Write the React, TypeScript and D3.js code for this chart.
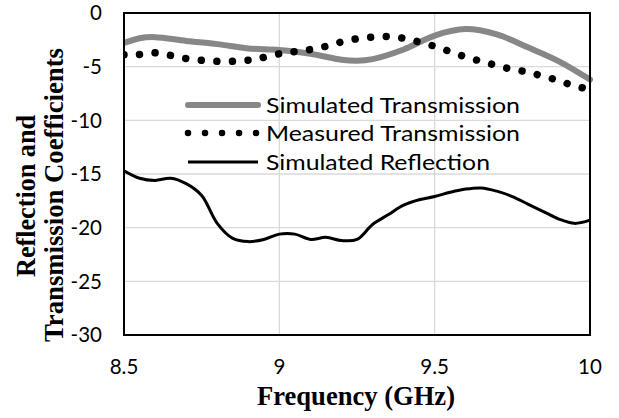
import React from "react";
import * as d3 from "d3";

const simTransFreq = [8.5, 8.55, 8.6, 8.7, 8.8, 8.9, 9.0, 9.1, 9.2, 9.25, 9.3, 9.4, 9.5, 9.6, 9.7, 9.8, 9.9, 10.0];
const simTransVals = [-2.8, -2.35, -2.25, -2.6, -2.9, -3.3, -3.45, -3.8, -4.35, -4.45, -4.3, -3.4, -2.1, -1.5, -2.0, -3.2, -4.5, -6.2];

const measFreq = [8.5, 8.54, 8.59, 8.64, 8.69, 8.745, 8.8, 8.85, 8.9, 8.94, 9.0, 9.05, 9.1, 9.15, 9.2, 9.25, 9.3, 9.35, 9.4, 9.45, 9.5, 9.55, 9.6, 9.65, 9.7, 9.75, 9.8, 9.85, 9.9, 9.95, 10.0];
const measVals = [-3.9, -3.9, -3.7, -3.9, -4.2, -4.4, -4.5, -4.5, -4.4, -4.2, -3.8, -3.6, -3.4, -3.1, -2.7, -2.4, -2.25, -2.2, -2.35, -2.7, -3.1, -3.6, -4.1, -4.5, -4.9, -5.25, -5.5, -5.9, -6.3, -6.8, -7.1];

const reflFreq = [8.5, 8.55, 8.6, 8.65, 8.7, 8.75, 8.8, 8.85, 8.9, 8.95, 9.0, 9.05, 9.1, 9.15, 9.2, 9.25, 9.3, 9.35, 9.4, 9.45, 9.5, 9.55, 9.6, 9.65, 9.7, 9.75, 9.8, 9.85, 9.9, 9.95, 10.0];
const reflVals = [-14.7, -15.4, -15.6, -15.4, -15.9, -17.0, -19.6, -21.0, -21.3, -21.1, -20.6, -20.6, -21.1, -20.9, -21.2, -21.1, -19.7, -18.8, -17.9, -17.4, -17.1, -16.7, -16.4, -16.3, -16.6, -17.1, -17.8, -18.5, -19.2, -19.6, -19.3];

const xTicks = [8.5, 9, 9.5, 10];
const yTicks = [0, -5, -10, -15, -20, -25, -30];
const seriesNames = ["Simulated Transmission", "Measured Transmission", "Simulated Reflection"];

const W = 619;
const H = 418;
const L = 124, R = 590, T = 13, B = 335;

export default function App() {
  const x = d3.scaleLinear().domain([8.5, 10]).range([L, R]);
  const y = d3.scaleLinear().domain([0, -30]).range([T, B]);
  const mk = (fs: number[], vs: number[]) =>
    d3.line<number>().x((_, i) => x(fs[i])).y((v) => y(v)).curve(d3.curveCatmullRom.alpha(0.5))(vs) || "";

  const simPath = mk(simTransFreq, simTransVals);
  const measPath = mk(measFreq, measVals);
  const reflPath = mk(reflFreq, reflVals);

  const gray = "#878787";
  const tickFont = "Lato, 'Open Sans', sans-serif";
  const serif = "'Liberation Serif', 'Times New Roman', serif";

  const legX1 = 188, legX2 = 258, legTx = 266;
  const legY = [105, 133, 162];

  return (
    <svg width={W} height={H} style={{ position: "absolute", left: 0, top: 0, background: "#fff" }}>
      <rect x={0} y={0} width={W} height={H} fill="#fff" />
      {yTicks.filter((t) => t !== 0 && t !== -30).map((t) => (
        <line key={"hy" + t} x1={L} x2={R} y1={y(t)} y2={y(t)} stroke="#d9d9d9" strokeWidth={1.3} />
      ))}
      {xTicks.filter((t) => t !== 8.5 && t !== 10).map((t) => (
        <line key={"vx" + t} x1={x(t)} x2={x(t)} y1={T} y2={B} stroke="#d9d9d9" strokeWidth={1.3} />
      ))}
      <defs>
        <clipPath id="plotclip">
          <rect x={L} y={T - 5} width={R - L + 6} height={B - T + 10} />
        </clipPath>
      </defs>
      <g clipPath="url(#plotclip)">
        <path d={simPath} fill="none" stroke={gray} strokeWidth={6} strokeLinecap="round" />
        <path d={measPath} fill="none" stroke="#000" strokeWidth={7.5} strokeLinecap="round" strokeDasharray="0.01 15.6" />
        <path d={reflPath} fill="none" stroke="#000" strokeWidth={3} />
      </g>
      <rect x={L} y={T} width={R - L} height={B - T} fill="none" stroke="#000" strokeWidth={2} />

      {yTicks.map((t) => (
        <text key={"yl" + t} x={102} y={y(t)} dy="0.35em" textAnchor="end" fontFamily={tickFont} fontSize={20.5} fill="#000">
          {t}
        </text>
      ))}
      {xTicks.map((t) => (
        <text key={"xl" + t} x={x(t)} y={374} textAnchor="middle" fontFamily={tickFont} fontSize={20.5} fill="#000">
          {t}
        </text>
      ))}

      {/* legend */}
      <line x1={legX1} x2={legX2} y1={legY[0]} y2={legY[0]} stroke={gray} strokeWidth={6} strokeLinecap="round" />
      <line x1={legX1} x2={legX2 + 2} y1={legY[1]} y2={legY[1]} stroke="#000" strokeWidth={6.5} strokeLinecap="round" strokeDasharray="0.01 17" />
      <line x1={legX1} x2={legX2} y1={legY[2]} y2={legY[2]} stroke="#000" strokeWidth={3} />
      {seriesNames.map((n, i) => (
        <text key={n} x={legTx} y={legY[i]} dy="0.36em" fontFamily={tickFont} fontSize={22} fill="#000"
          textLength={[254, 254, 224][i]} lengthAdjust="spacingAndGlyphs">
          {n}
        </text>
      ))}

      <text x={356} y={405} textAnchor="middle" fontFamily={serif} fontWeight="bold" fontSize={27} fill="#000"
        textLength={198} lengthAdjust="spacingAndGlyphs">
        Frequency (GHz)
      </text>
      <g transform="translate(35,196) rotate(-90)">
        <text x={0} y={0} textAnchor="middle" fontFamily={serif} fontWeight="bold" fontSize={27} fill="#000"
          textLength={162} lengthAdjust="spacingAndGlyphs">
          Reflection and
        </text>
      </g>
      <g transform="translate(63,195) rotate(-90)">
        <text x={0} y={0} textAnchor="middle" fontFamily={serif} fontWeight="bold" fontSize={27} fill="#000"
          textLength={294} lengthAdjust="spacingAndGlyphs">
          Transmission Coefficients
        </text>
      </g>
    </svg>
  );
}
